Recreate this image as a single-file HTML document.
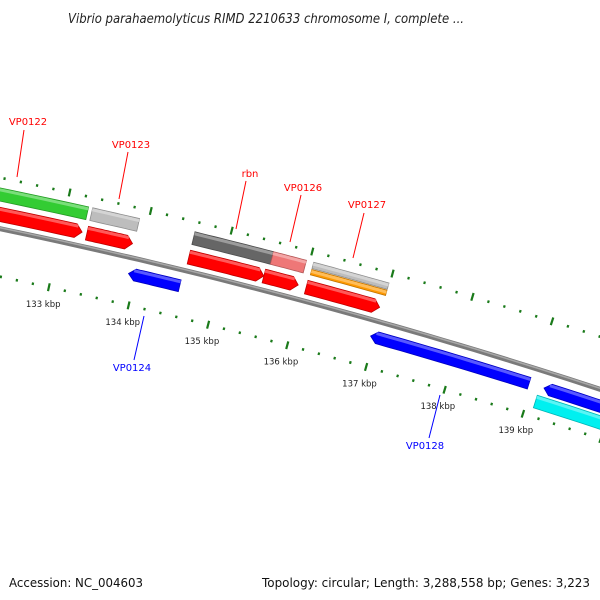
<!DOCTYPE html>
<html><head><meta charset="utf-8"><style>
html,body{margin:0;padding:0;background:#fff;}
svg{display:block;font-family:"DejaVu Sans","Liberation Sans",sans-serif;}
</style></head><body>
<svg id="map" width="600" height="600" viewBox="0 0 600 600" xmlns="http://www.w3.org/2000/svg">
<text x="266" y="23" text-anchor="middle" font-size="13" font-style="italic" fill="#222" textLength="396" lengthAdjust="spacingAndGlyphs">Vibrio parahaemolyticus RIMD 2210633 chromosome I, complete ...</text>
<g id="layer"></g>
<text x="9" y="587" font-size="12.5" fill="#111" textLength="134" lengthAdjust="spacingAndGlyphs">Accession: NC_004603</text>
<text x="590" y="587" font-size="12.5" fill="#111" text-anchor="end" textLength="328" lengthAdjust="spacingAndGlyphs">Topology: circular; Length: 3,288,558 bp; Genes: 3,223</text>
</svg>
<script>
// ---- data ----
const featureNames = ["VP0122-gene","VP0122","VP0123-gene","VP0123","VP0124","rbn-gene","VP0126-gene","rbn","VP0126","VP0127-gene","VP0127-orf","VP0127","VP0128","VP0129","VP0129-gene"];
const featureStarts = [131000,131000,133310,133310,133910,134575,135550,134575,135510,136050,136050,136040,136950,139150,139100];
const featureEnds   = [133260,133250,133890,133875,134550,135550,135960,135510,135940,136990,136990,136960,138960,141500,141500];
const featureStrand = [1,1,1,1,-1,1,1,1,1,1,1,1,-1,-1,-1];
const featureTrack  = ["gene","cds","gene","cds","rcds","gene","gene","cds","cds","geneTop","geneBot","cds","rcds","rcds","rgene"];
const featureColor  = ["#33cc33","#ff0000","#bdbdbd","#ff0000","#0000ff","#666666","#ee7777","#ff0000","#ff0000","#bdbdbd","#ff9900","#ff0000","#0000ff","#0000ff","#00f0f0"];
const tickStart = 131000, tickEnd = 141000, tickStep = 200;
const labelKbp = [133,134,135,136,137,138,139];

// ---- geometry (circular axis) ----
const CX = -1132, CY = 5660, R0 = 5548;
const TH0 = Math.atan2(241 - CY, 59 - CX);
const PX_PER_KBP = 82.5;
function ang(bp){ return TH0 + (bp - 133000) / 1000 * PX_PER_KBP / R0; }
function pt(bp, off){ const a = ang(bp), r = R0 + off; return [CX + r*Math.cos(a), CY + r*Math.sin(a)]; }
const tracks = {gene:[27,40], geneTop:[33.5,40], geneBot:[27,32.5], cds:[7,21], rcds:[-22,-10], rgene:[-38,-25]};
const NS = "http://www.w3.org/2000/svg";
const layer = document.getElementById("layer");
function mk(tag, attrs){ const e = document.createElementNS(NS, tag); for (const k in attrs) e.setAttribute(k, attrs[k]); layer.appendChild(e); return e; }
function bandPts(s, e, r0, r1, dir, head){
  const pts = [], n = 12;
  let s2 = s, e2 = e;
  if (head && dir > 0) e2 = e - 80;
  if (head && dir < 0) s2 = s + 80;
  for (let i = 0; i <= n; i++) pts.push(pt(s2 + (e2 - s2) * i / n, r1));
  if (head && dir > 0) pts.push(pt(e, (r0 + r1) / 2));
  for (let i = n; i >= 0; i--) pts.push(pt(s2 + (e2 - s2) * i / n, r0));
  if (head && dir < 0) pts.push(pt(s, (r0 + r1) / 2));
  return pts.map(p => p[0].toFixed(1) + "," + p[1].toFixed(1)).join(" ");
}
function shade(c, f){
  const n = parseInt(c.slice(1), 16); let r = n >> 16, g = (n >> 8) & 255, b = n & 255;
  if (f > 0){ r += (255 - r) * f; g += (255 - g) * f; b += (255 - b) * f; } else { r *= 1 + f; g *= 1 + f; b *= 1 + f; }
  return "rgb(" + Math.round(r) + "," + Math.round(g) + "," + Math.round(b) + ")";
}

// backbone
const bb = [];
for (let bp = 130000; bp <= 142000; bp += 200){ const p = pt(bp, 0); bb.push(p[0].toFixed(1) + "," + p[1].toFixed(1)); }
const bbl = mk("polyline", {points: bb.join(" "), fill: "none", stroke: "#7a7a7a", "stroke-width": 5});


const bbh = mk("polyline", {points: bb.join(" "), fill: "none", stroke: "#a8a8a8", "stroke-width": 1.5, transform: "translate(0,-1)"});



// features
for (let i = 0; i < featureNames.length; i++){
  const t = tracks[featureTrack[i]], c = featureColor[i];
  const head = featureTrack[i] === "cds" || featureTrack[i] === "rcds";
  const dir = featureStrand[i];
  const poly = mk("polygon", {points: bandPts(featureStarts[i], featureEnds[i], t[0], t[1], dir, head), fill: c, stroke: shade(c, -0.25), "stroke-width": 0.8});
  
  
  const hl = mk("polygon", {points: bandPts(featureStarts[i] + (head && dir < 0 ? 60 : 0), featureEnds[i] - (head && dir > 0 ? 60 : 0), t[1] - 3.5, t[1] - 0.5, dir, false), fill: shade(c, 0.35)});
  
  
}

// ticks
for (let bp = tickStart; bp <= tickEnd; bp += tickStep){
  const major = bp % 1000 === 0;
  [[50, 'outer-tick'], [-47, 'inner-tick']].forEach(([off, nm]) => {
    const a = pt(bp, off - (major ? 4 : 1.3)), b = pt(bp, off + (major ? 4 : 1.3));
    const l = mk("line", {x1: a[0].toFixed(1), y1: a[1].toFixed(1), x2: b[0].toFixed(1), y2: b[1].toFixed(1), stroke: "#1a7a1a", "stroke-width": major ? 2.2 : 2.2});
    
    
  });
}
labelKbp.forEach(k => {
  const p = pt(k * 1000, -64);
  const tx = mk("text", {x: (p[0] - 2).toFixed(1), y: (p[1] + 3).toFixed(1), "font-size": 8.5, "text-anchor": "middle", fill: "#222"});
  tx.textContent = k + " kbp";
  
  
});

// feature labels
const labels = [
  ["VP0122", 28, 125, 17, 177, 24, 130, "#f00"],
  ["VP0123", 131, 148, 119, 199, 128, 152, "#f00"],
  ["rbn", 250, 177, 236, 229, 246, 181, "#f00"],
  ["VP0126", 303, 191, 290, 242, 301, 195, "#f00"],
  ["VP0127", 367, 208, 353, 258, 364, 213, "#f00"],
  ["VP0124", 132, 371, 144, 316, 134, 360, "#00f"],
  ["VP0128", 425, 449, 440, 395, 429, 438, "#00f"]
];
labels.forEach(L => {
  const ln = mk("line", {x1: L[3], y1: L[4], x2: L[5], y2: L[6], stroke: L[7], "stroke-width": 1});
  
  
  const tx = mk("text", {x: L[1], y: L[2], "font-size": 10, "text-anchor": "middle", fill: L[7]});
  tx.textContent = L[0];
  
  
});
</script>
</body></html>
